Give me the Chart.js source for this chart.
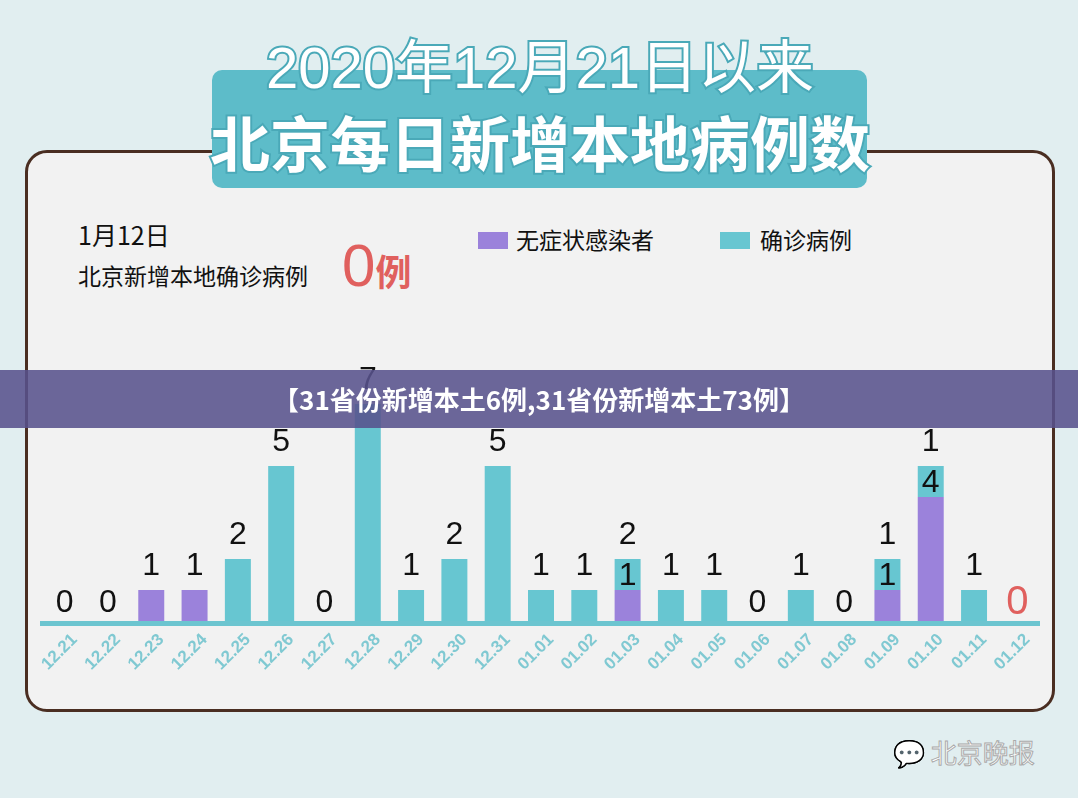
<!DOCTYPE html>
<html><head><meta charset="utf-8">
<script src="https://cdn.jsdelivr.net/npm/chart.js@4"></script>
<style>
body{margin:0;background:#e1eef0;font-family:"Noto Sans CJK SC",sans-serif;}
#wrap{position:relative;width:1078px;height:798px;overflow:hidden;}
.abs{position:absolute;}
#panel{left:25px;top:150px;width:1024px;height:556px;border:3px solid #4a2e22;border-radius:22px;background:#f2f2f2;}
#tbox{left:212px;top:70px;width:655px;height:118px;background:#5dbcc9;border-radius:10px;}
.tt{left:190px;width:700px;text-align:center;color:#fff;font-weight:bold;-webkit-text-stroke:4px #4aa9b8;paint-order:stroke fill;}
#banner{left:0;top:370px;width:1078px;height:58px;background:rgba(88,82,140,0.88);color:#fff;font-weight:bold;font-size:26px;line-height:58px;text-align:center;}
canvas{position:absolute;left:0;top:0;}
</style></head><body>
<div id="wrap">
<div class="abs" id="panel"></div>
<div class="abs" id="tbox"></div>
<div class="abs tt" style="top:30px;font-size:58px;line-height:76px;font-family:'Liberation Sans','Noto Sans CJK SC';font-weight:normal;">2020年12月21日以来</div>
<div class="abs tt" style="top:102px;font-size:60px;line-height:78px;">北京每日新增本地病例数</div>
<div class="abs" style="left:78px;top:216px;font-size:25px;color:#111;">1月12日</div>
<div class="abs" style="left:78px;top:258px;font-size:23px;color:#111;">北京新增本地确诊病例</div>
<div class="abs" style="left:342px;top:226px;font-size:60px;line-height:80px;color:#e0605e;font-family:'Liberation Sans';">0<span style="font-family:'Noto Sans CJK SC';font-size:36px;font-weight:bold;">例</span></div>
<div class="abs" style="left:478px;top:232px;width:30px;height:17px;background:#9b82db;"></div>
<div class="abs" style="left:516px;top:222px;font-size:23px;color:#111;">无症状感染者</div>
<div class="abs" style="left:720px;top:232px;width:30px;height:17px;background:#67c6d1;"></div>
<div class="abs" style="left:760px;top:222px;font-size:23px;color:#111;">确诊病例</div>
<div class="abs" style="left:893px;top:733px;font-size:26px;color:#fff;-webkit-text-stroke:1px #aaa;">💬 北京晚报</div>
<canvas id="c" width="1078" height="798"></canvas>
<div class="abs" id="banner">【31省份新增本土6例,31省份新增本土73例】</div>
</div>
<script>
const categories=["12.21","12.22","12.23","12.24","12.25","12.26","12.27","12.28","12.29","12.30","12.31","01.01","01.02","01.03","01.04","01.05","01.06","01.07","01.08","01.09","01.10","01.11","01.12"];
const asymptomatic=[0,0,1,1,0,0,0,0,0,0,0,0,0,1,0,0,0,0,0,1,4,0,0];
const confirmed=[0,0,0,0,2,5,0,7,1,2,5,1,1,1,1,1,0,1,0,1,1,1,0];
const topLabels=["0","0","1","1","2","5","0","7","1","2","5","1","1","2","1","1","0","1","0","1","1","1","0"];
const innerLabels=[null,null,null,null,null,null,null,null,null,null,null,null,null,"1",null,null,null,null,null,"1","4",null,null];
const CYAN="#67c6d1",PURPLE="#9b82db";
const deco={id:"deco",
 beforeDatasetsDraw(ch){const c=ch.ctx,a=ch.chartArea,x=ch.scales.x;
  c.save();c.fillStyle="#6cc5d0";c.fillRect(40,a.bottom,1000,5);
  c.fillStyle="#80c9d2";c.font="bold 17px 'Liberation Sans'";c.textAlign="right";c.textBaseline="middle";
  categories.forEach((t,i)=>{const px=x.getPixelForValue(i);c.save();c.translate(px+10,a.bottom+16);c.rotate(-Math.PI/4);c.fillText(t,0,0);c.restore();});
  c.restore();},
 afterDatasetsDraw(ch){const c=ch.ctx,x=ch.scales.x,y=ch.scales.y;
  c.save();c.font="32px 'Liberation Sans'";c.textAlign="center";c.textBaseline="middle";
  categories.forEach((t,i)=>{const px=x.getPixelForValue(i);const tot=asymptomatic[i]+confirmed[i];
   const top=y.getPixelForValue(tot);
   c.fillStyle=i===categories.length-1?"#e0605e":"#111";
   if(i===categories.length-1)c.font="40px 'Liberation Sans'";
   c.fillText(topLabels[i],px,top-(tot===0?18:24));
   if(innerLabels[i]){c.fillStyle="#111";c.fillText(innerLabels[i],px,(y.getPixelForValue(asymptomatic[i])+top)/2+2);}
  });c.restore();}};
new Chart(document.getElementById("c"),{type:"bar",
 data:{labels:categories,datasets:[
  {label:"无症状感染者",data:asymptomatic,backgroundColor:PURPLE},
  {label:"确诊病例",data:confirmed,backgroundColor:CYAN}]},
 options:{responsive:false,animation:false,
  layout:{padding:{left:43,right:39,top:373,bottom:177}},
  plugins:{legend:{display:false},tooltip:{enabled:false}},
  datasets:{bar:{categoryPercentage:1,barPercentage:0.6}},
  scales:{x:{stacked:true,display:false},y:{stacked:true,display:false,min:0,max:8}}},
 plugins:[deco]});
</script></body></html>
